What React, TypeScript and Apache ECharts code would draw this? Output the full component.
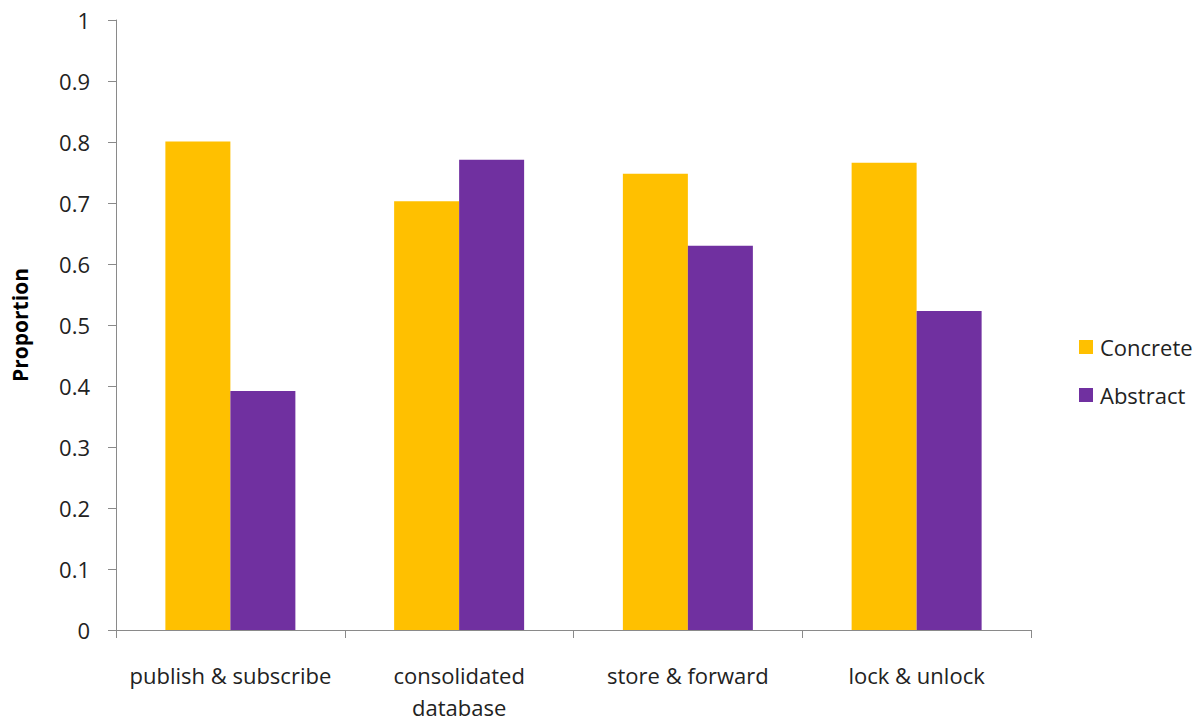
import React, { useEffect, useRef } from "react";
import * as echarts from "echarts";

const categories = ["publish & subscribe", "consolidated\ndatabase", "store & forward", "lock & unlock"];
const concrete = [0.801, 0.703, 0.748, 0.766];
const abstractVals = [0.392, 0.771, 0.630, 0.523];
const yTicks = { min: 0, max: 1, interval: 0.1 };

export default function App() {
  const ref = useRef<HTMLDivElement>(null);
  useEffect(() => {
    if (!ref.current) return;
    const chart = echarts.init(ref.current, undefined, { renderer: "svg" });
    const font = "Open Sans";
    chart.setOption({
      animation: false,
      backgroundColor: "#ffffff",
      textStyle: { fontFamily: font },
      grid: { left: 116, right: 170, top: 20, bottom: 90 },
      legend: {
        orient: "vertical",
        left: 1074,
        top: 331,
        itemWidth: 14,
        itemHeight: 14,
        itemGap: 26,
        icon: "rect",
        textStyle: { fontSize: 22, color: "#222", fontFamily: font, padding: [0, 0, 0, 2] },
        data: ["Concrete", "Abstract"],
      },
      xAxis: {
        type: "category",
        data: categories,
        axisLine: { lineStyle: { color: "#8a8a8a", width: 1 } },
        axisTick: { show: true, length: 8, alignWithLabel: false, lineStyle: { color: "#8a8a8a" } },
        axisLabel: { fontSize: 22, color: "#222", margin: 29, lineHeight: 32, interval: 0, fontFamily: font },
      },
      yAxis: {
        type: "value",
        min: yTicks.min,
        max: yTicks.max,
        interval: yTicks.interval,
        name: "Proportion",
        nameLocation: "middle",
        nameGap: 86,
        nameRotate: 90,
        nameTextStyle: { fontSize: 21, fontWeight: "bold", color: "#000", fontFamily: font },
        axisLine: { show: true, lineStyle: { color: "#8a8a8a", width: 1 } },
        axisTick: { show: true, length: 8, inside: false, lineStyle: { color: "#8a8a8a" } },
        axisLabel: {
          fontSize: 22,
          color: "#222",
          margin: 26,
          fontFamily: font,
          formatter: (v: number) => String(Math.round(v * 10) / 10),
        },
        splitLine: { show: false },
      },
      series: [
        {
          name: "Concrete",
          type: "bar",
          data: concrete,
          barWidth: 65,
          barGap: "0%",
          itemStyle: { color: "#FFC000" },
        },
        {
          name: "Abstract",
          type: "bar",
          data: abstractVals,
          barWidth: 65,
          barGap: "0%",
          itemStyle: { color: "#7030A0" },
        },
      ],
    });
    return () => chart.dispose();
  }, []);
  return <div ref={ref} style={{ width: 1201, height: 723, position: "absolute", left: 0, top: 0 }} />;
}
